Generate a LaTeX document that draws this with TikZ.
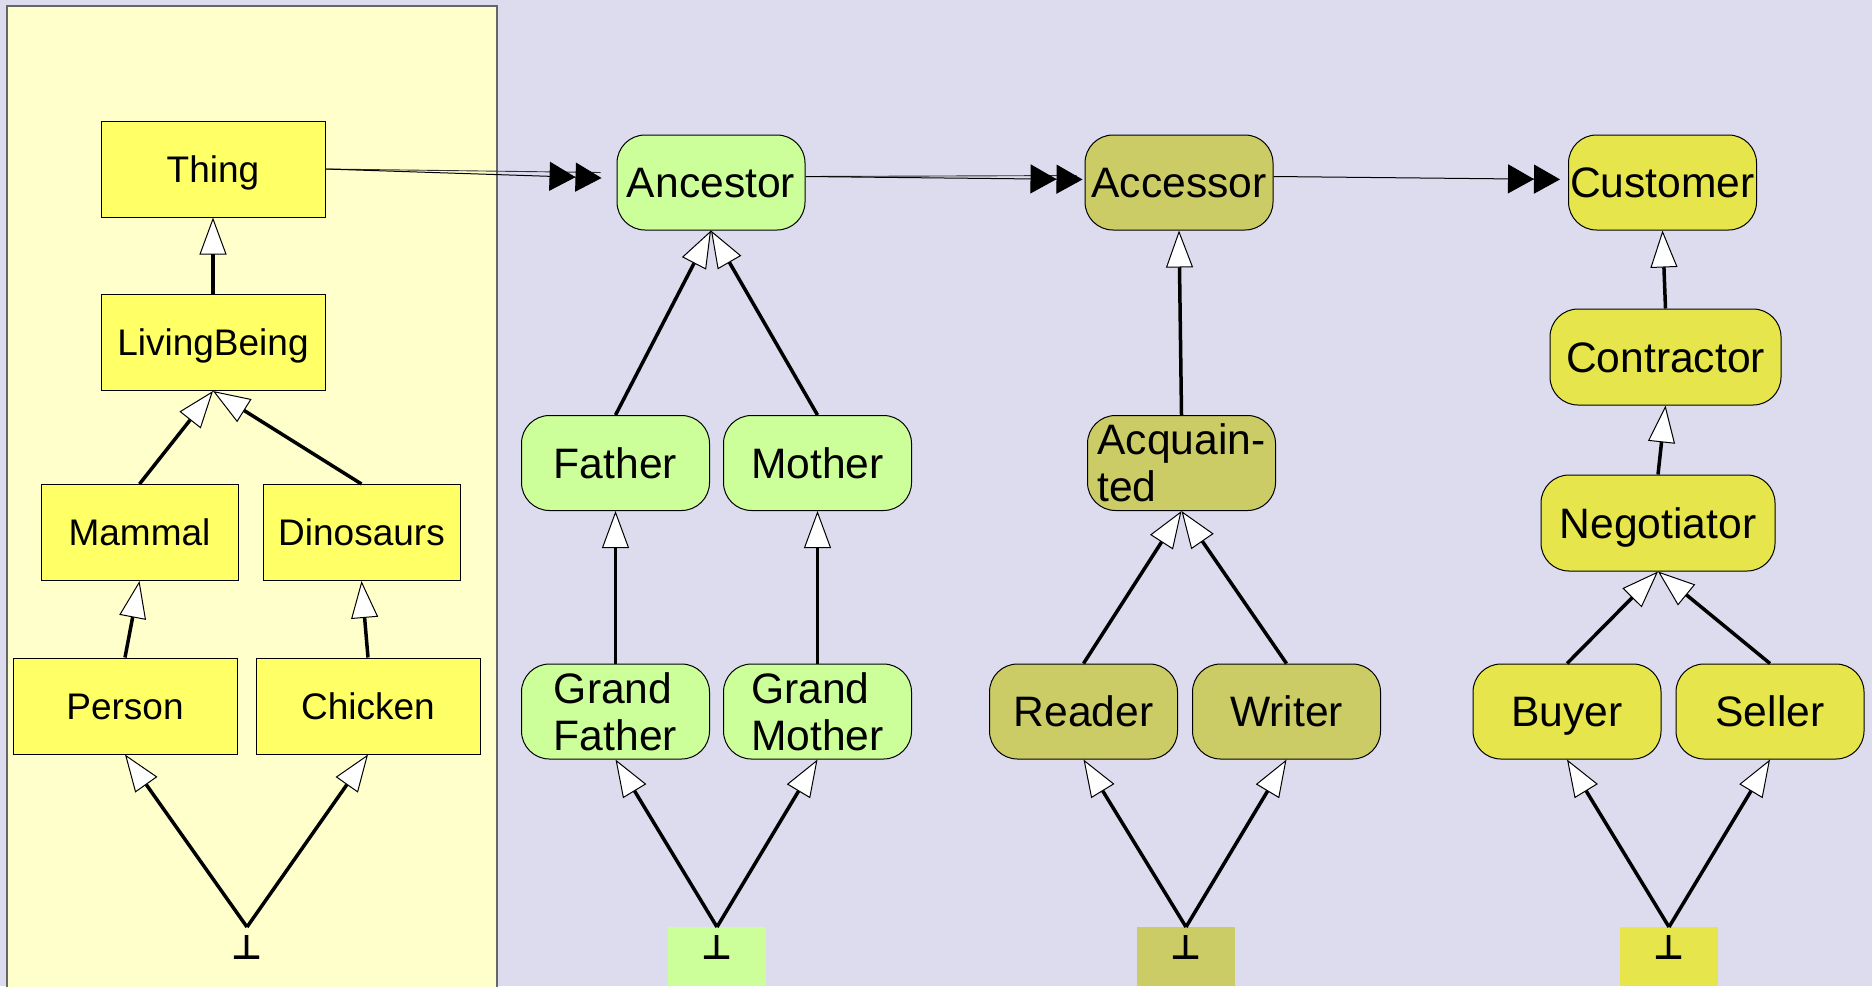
\documentclass[tikz,border=0pt]{standalone}
\usepackage{fontspec}
\setmainfont{Liberation Sans}
\newfontfamily\dejavu{DejaVu Sans}
\usetikzlibrary{arrows.meta}
\definecolor{bgmain}{HTML}{DCDCEE}
\definecolor{panelL}{HTML}{FFFFCC}
\definecolor{cThing}{HTML}{FFFF66}
\definecolor{cGreen}{HTML}{CCFF99}
\definecolor{cOlive}{HTML}{CCCC66}
\definecolor{cYel}{HTML}{E6E64C}
\begin{document}
\begin{tikzpicture}[x=0.5pt,y=-0.5pt,
  rectnode/.style={draw=black, line width=0.5pt, fill=cThing, minimum width=112pt, minimum height=48pt, inner sep=0pt, text height=13.25pt, text depth=0pt, font=\fontsize{18.5}{22}\selectfont},
  smallrect/.style={rectnode, minimum width=98.5pt},
  roundnode/.style={draw=black, line width=0.5pt, rounded corners=14pt, minimum width=94pt, minimum height=47.5pt, inner sep=0pt, align=left, font=\fontsize{21.3}{23.5}\selectfont},
  oneline/.style={text height=15.25pt, text depth=0pt},
  gen/.style={line width=1.75pt, -{Triangle[length=18.5pt,width=13.5pt,line width=0.5pt,fill=white]}},
  assoc/.style={line width=0.5pt, shorten >=1pt, -{Triangle[length=13pt,width=14.5pt]Triangle[length=13pt,width=14.5pt]}},
  assocb/.style={line width=0.45pt, draw=black!80},
  botnode/.style={anchor=north, minimum width=49pt, inner xsep=0pt, inner ysep=0pt, text height=16pt, text depth=13.5pt, font=\dejavu\bfseries\fontsize{17}{17}\selectfont}]
\useasboundingbox (0,0) rectangle (1872,986);
\fill[bgmain] (0,0) rectangle (1872,986);
\filldraw[fill=panelL, draw=black!60, line width=0.7pt] (7,6) rectangle (497,990);

% left column
\node[rectnode] (Thing) at (213,169) {Thing};
\node[rectnode] (LivingBeing) at (213,342.5) {LivingBeing};
\node[smallrect] (Mammal) at (139.5,532.5) {Mammal};
\node[smallrect] (Dinosaurs) at (361.5,532.5) {Dinosaurs};
\node[rectnode] (Person) at (125,706) {Person};
\node[rectnode] (Chicken) at (368,706) {Chicken};
\node[botnode] (botL) at (247,927) {⊥};

% green column
\node[roundnode, oneline, fill=cGreen] (Ancestor) at (711,182.5) {Ancestor};
\node[roundnode, oneline, fill=cGreen] (Father) at (615.5,463) {Father};
\node[roundnode, oneline, fill=cGreen] (Mother) at (817.5,463) {Mother};
\node[roundnode, fill=cGreen] (GrandFather) at (615.5,711.5) {Grand\\Father};
\node[roundnode, fill=cGreen] (GrandMother) at (817.5,711.5) {Grand\\Mother};
\node[botnode, fill=cGreen] (botG) at (717,927) {⊥};

% olive column
\node[roundnode, oneline, fill=cOlive] (Accessor) at (1179,182.5) {Accessor};
\node[roundnode, fill=cOlive] (Acquainted) at (1181.5,463) {Acquain-\\ted};
\node[roundnode, oneline, fill=cOlive] (Reader) at (1083.5,711.5) {Reader};
\node[roundnode, oneline, fill=cOlive] (Writer) at (1286.5,711.5) {Writer};
\node[botnode, fill=cOlive] (botO) at (1186,927) {⊥};

% yellow column
\node[roundnode, oneline, fill=cYel] (Customer) at (1662.5,182.5) {Customer};
\node[roundnode, oneline, fill=cYel, minimum width=115.5pt, minimum height=48pt] (Contractor) at (1665.5,357) {Contractor};
\node[roundnode, oneline, fill=cYel, minimum width=117pt, minimum height=48pt] (Negotiator) at (1658,523) {Negotiator};
\node[roundnode, oneline, fill=cYel] (Buyer) at (1567,711.5) {Buyer};
\node[roundnode, oneline, fill=cYel] (Seller) at (1770,711.5) {Seller};
\node[botnode, fill=cYel] (botY) at (1669,927) {⊥};

% generalisations
\draw[gen] (LivingBeing.north) -- (Thing.south);
\draw[gen] (Mammal.north) -- (LivingBeing.south);
\draw[gen] (Dinosaurs.north) -- (LivingBeing.south);
\draw[gen] (Person.north) -- (Mammal.south);
\draw[gen] (Chicken.north) -- (Dinosaurs.south);
\draw[gen] (botL.north) -- (Person.south);
\draw[gen] (botL.north) -- (Chicken.south);

\draw[gen] (Father.north) -- (Ancestor.south);
\draw[gen] (Mother.north) -- (Ancestor.south);
\draw[gen] (GrandFather.north) -- (Father.south);
\draw[gen] (GrandMother.north) -- (Mother.south);
\draw[gen] (botG.north) -- (GrandFather.south);
\draw[gen] (botG.north) -- (GrandMother.south);

\draw[gen] (Acquainted.north) -- (Accessor.south);
\draw[gen] (Reader.north) -- (Acquainted.south);
\draw[gen] (Writer.north) -- (Acquainted.south);
\draw[gen] (botO.north) -- (Reader.south);
\draw[gen] (botO.north) -- (Writer.south);

\draw[gen] (Contractor.north) -- (Customer.south);
\draw[gen] (Negotiator.north) -- (Contractor.south);
\draw[gen] (Buyer.north) -- (Negotiator.south);
\draw[gen] (Seller.north) -- (Negotiator.south);
\draw[gen] (botY.north) -- (Buyer.south);
\draw[gen] (botY.north) -- (Seller.south);

% associations (double-headed)
\draw[assocb] (Thing.east) -- ([xshift=-8pt,yshift=5pt]Ancestor.west);
\draw[assoc, shorten >=7.5pt] (Thing.east) -- ([yshift=2pt]Ancestor.west);
\draw[assocb] ([yshift=3pt]Ancestor.east) -- ([xshift=-4pt,yshift=3.5pt]Accessor.west);
\draw[assoc] ([yshift=3pt]Ancestor.east) -- ([yshift=1.5pt]Accessor.west);
\draw[assoc, shorten >=4pt] ([yshift=3pt]Accessor.east) -- ([yshift=1.5pt]Customer.west);
\end{tikzpicture}
\end{document}
